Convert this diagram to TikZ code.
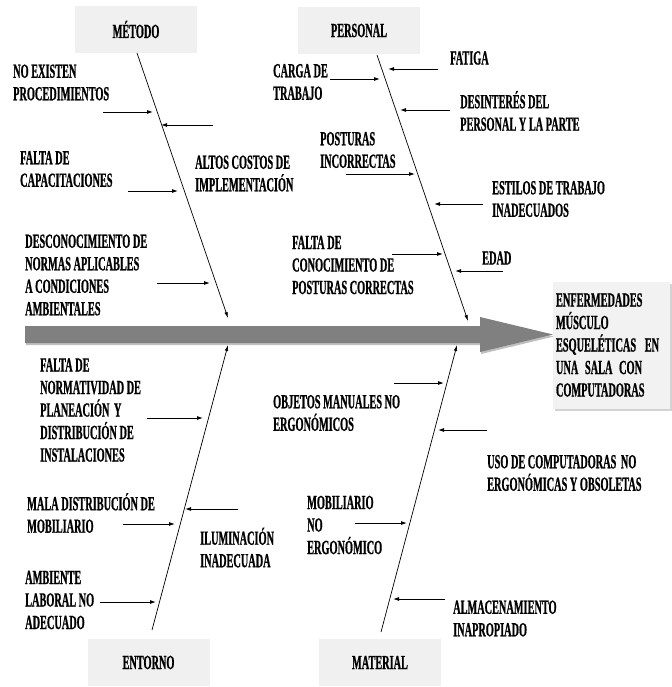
\documentclass[tikz,border=0pt]{standalone}
\usepackage{fontspec}
\newfontfamily\fuente{Liberation Serif Bold}[FakeStretch=0.515,FakeBold=0.8]
\usepackage{tikz}
\usetikzlibrary{arrows.meta}
\usetikzlibrary{shadows}

\begin{document}
\begin{tikzpicture}[x=1pt,y=-1pt,
	texto/.style={font=\fuente\fontsize{20}{22.5}\selectfont,align=left,inner sep=0pt,anchor=west},
	categoria/.style={fill=gray!12,minimum width=122pt,minimum height=47pt,inner sep=0pt,font=\fuente\fontsize{20}{22.5}\selectfont},
	espina/.style={-{Latex[length=6pt,width=3.5pt]},line width=0.7pt},
	flecha/.style={-{Latex[length=6pt,width=4pt]},line width=0.9pt}]

		\useasboundingbox (0,0) rectangle (671,687);

		% flecha principal
		\fill [black!25,xshift=1pt,yshift=-2pt] (25,326)--(480,326)--(480,317)--(553,334.5)--(480,352)--(480,343)--(25,343)--cycle;
		\fill [gray] (25,326)--(480,326)--(480,317)--(553,334.5)--(480,352)--(480,343)--(25,343)--cycle;

		\node [categoria] (metodo) at (136,29.5) {MÉTODO};
		\node [categoria] (personal) at (359,30.5) {PERSONAL};
		\node [categoria] (entorno) at (148.5,662.5) {ENTORNO};
		\node [categoria] (material) at (380,662.5) {MATERIAL};

		\node [fill=gray!10,drop shadow={shadow xshift=2pt,shadow yshift=-2pt,opacity=0.35},
			minimum width=117pt,minimum height=127pt,inner sep=3pt,text width=111pt,
			font=\fuente\fontsize{20}{22.5}\selectfont,align=left] (efecto) at (611.5,345)
			{ENFERMEDADES\\MÚSCULO\\ESQUELÉTICAS\hspace{2pt} EN\\UNA SALA CON\\COMPUTADORAS};

		\coordinate (M1) at (137,53) ;
		\coordinate (M2) at (228,318) ;
		\coordinate (P1) at (377,55) ;
		\coordinate (P2) at (468,321) ;
		\coordinate (E1) at (152,630) ;
		\coordinate (E2) at (228,345) ;
		\coordinate (T1) at (381,632) ;
		\coordinate (T2) at (457,345) ;

		\foreach \a/\b in {M1/M2,P1/P2,E1/E2,T1/T2}
			\draw [espina] (\a) -- (\b) ;

		% causas
		\node [texto] (noexisten) at (13,82.5) {NO EXISTEN\\PROCEDIMIENTOS};
		\node [texto] (capacitaciones) at (20,169) {FALTA DE\\CAPACITACIONES};
		\node [texto] (costos) at (195,173.5) {ALTOS COSTOS DE\\IMPLEMENTACIÓN};
		\node [texto] (normas) at (25,275) {DESCONOCIMIENTO DE\\NORMAS APLICABLES\\A CONDICIONES\\AMBIENTALES};

		\node [texto] (carga) at (273,82) {CARGA DE\\TRABAJO};
		\node [texto] (fatiga) at (450,58) {FATIGA};
		\node [texto] (desinteres) at (460,111) {DESINTERÉS DEL\\PERSONAL Y LA PARTE};
		\node [texto] (posturas) at (320,150) {POSTURAS\\INCORRECTAS};
		\node [texto] (estilos) at (492,199) {ESTILOS DE TRABAJO\\INADECUADOS};
		\node [texto] (conocimiento) at (292,265) {FALTA DE\\CONOCIMIENTO DE\\POSTURAS CORRECTAS};
		\node [texto] (edad) at (482,258) {EDAD};

		\node [texto] (normatividad) at (40,410) {FALTA DE\\NORMATIVIDAD DE\\PLANEACIÓN\hspace{2pt} Y\\DISTRIBUCIÓN DE\\INSTALACIONES};
		\node [texto] (distribucion) at (27,513) {MALA DISTRIBUCIÓN DE\\MOBILIARIO};
		\node [texto] (iluminacion) at (200,547.5) {ILUMINACIÓN\\INADECUADA};
		\node [texto] (ambiente) at (25,600) {AMBIENTE\\LABORAL NO\\ADECUADO};

		\node [texto] (objetos) at (273,413) {OBJETOS MANUALES NO\\ERGONÓMICOS};
		\node [texto] (computadoras) at (487,473) {USO DE COMPUTADORAS\hspace{2pt} NO\\ERGONÓMICAS Y OBSOLETAS};
		\node [texto] (mobiliario) at (307,525) {MOBILIARIO\\NO\\ERGONÓMICO};
		\node [texto] (almacenamiento) at (453,618.5) {ALMACENAMIENTO\\INAPROPIADO};

		\foreach \x/\z/\y in {103/153/112,213/161/125,128/178/191,157/210/283,
				330/380/79,438/388/69,450/400/110,346/415/174,483/434/204,392/443/254,503/455/271,
				147/203/418,123/175/524,238/185/509,100/156/602,
				394/444/383,487/438/430,355/407/523,445/393/599}
			\draw [flecha] (\x,\y) -- (\z,\y) ;

\end{tikzpicture}
\end{document}
